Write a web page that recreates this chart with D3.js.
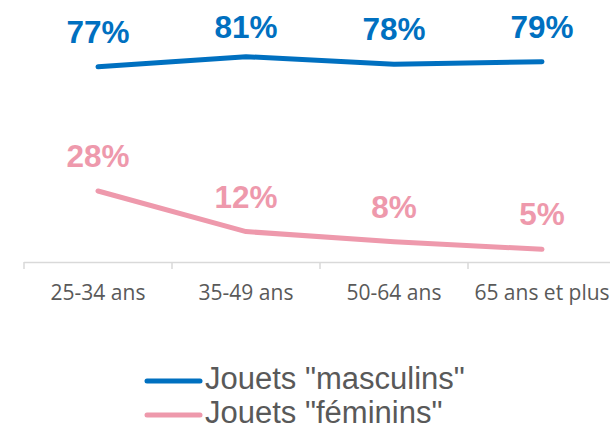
<!DOCTYPE html>
<html>
<head>
<meta charset="utf-8">
<script src="https://cdn.jsdelivr.net/npm/d3@7"></script>
<style>
  html, body { margin: 0; padding: 0; background: #fff; }
  svg { display: block; }
</style>
</head>
<body>
<svg id="chart" width="610" height="430"></svg>
<script>
// Age groups on the x axis
const categories = ["25-34 ans", "35-49 ans", "50-64 ans", "65 ans et plus"];
// Share (%) per age group
const masculins = [77, 81, 78, 79];
const feminins = [28, 12, 8, 5];
const seriesNames = ['Jouets "masculins"', 'Jouets "féminins"'];
const seriesColors = ["#0070C0", "#EE99AC"];

const series = [
  { name: seriesNames[0], values: masculins, color: seriesColors[0], minLabelY: 38 },
  { name: seriesNames[1], values: feminins, color: seriesColors[1], minLabelY: 0 }
];

const svg = d3.select("#chart");

const x = d3.scaleBand().domain(categories).range([24, 616]).paddingInner(0).paddingOuter(0);
const y = d3.scaleLinear().domain([0, 100]).range([262, 8.5]);

// Category axis, with ticks at the band boundaries
const xAxis = d3.axisBottom(x).tickSize(7).tickSizeOuter(0);
const gx = svg.append("g").attr("transform", "translate(0,262)").call(xAxis);
gx.select(".domain").attr("stroke", "#D9D9D9").attr("stroke-width", 1.5)
  .attr("d", "M24,0.5H616");
gx.selectAll(".tick line").attr("stroke", "#D9D9D9").attr("stroke-width", 1.5)
  .attr("transform", `translate(${-x.bandwidth() / 2},0)`);
gx.selectAll(".tick text")
  .attr("y", 38)
  .attr("dy", null)
  .attr("fill", "#595959")
  .style("font-family", "'Open Sans', 'Noto Sans', sans-serif")
  .style("font-size", "21px");

const line = d3.line()
  .x((d, i) => x(categories[i]) + x.bandwidth() / 2)
  .y(d => y(d));

series.forEach(s => {
  svg.append("path")
    .datum(s.values)
    .attr("d", line)
    .attr("fill", "none")
    .attr("stroke", s.color)
    .attr("stroke-width", 5)
    .attr("stroke-linecap", "round")
    .attr("stroke-linejoin", "round");

  svg.append("g").selectAll("text")
    .data(s.values)
    .join("text")
    .attr("x", (d, i) => x(categories[i]) + x.bandwidth() / 2)
    .attr("y", d => Math.max(s.minLabelY, y(d) - 24))
    .attr("text-anchor", "middle")
    .attr("fill", s.color)
    .style("font-family", "'Liberation Sans', Arial, sans-serif")
    .style("font-weight", "bold")
    .style("font-size", "31.5px")
    .text(d => d + "%");
});

// Legend
const legend = svg.append("g");
series.forEach((s, i) => {
  const ly = 381 + i * 34;
  legend.append("line")
    .attr("x1", 147).attr("x2", 200)
    .attr("y1", ly).attr("y2", ly)
    .attr("stroke", s.color)
    .attr("stroke-width", 5)
    .attr("stroke-linecap", "round");
  legend.append("text")
    .attr("x", 205)
    .attr("y", ly + 8)
    .attr("fill", "#595959")
    .style("font-family", "'Liberation Sans', Arial, sans-serif")
    .style("font-size", "31px")
    .text(s.name);
});
</script>
</body>
</html>
